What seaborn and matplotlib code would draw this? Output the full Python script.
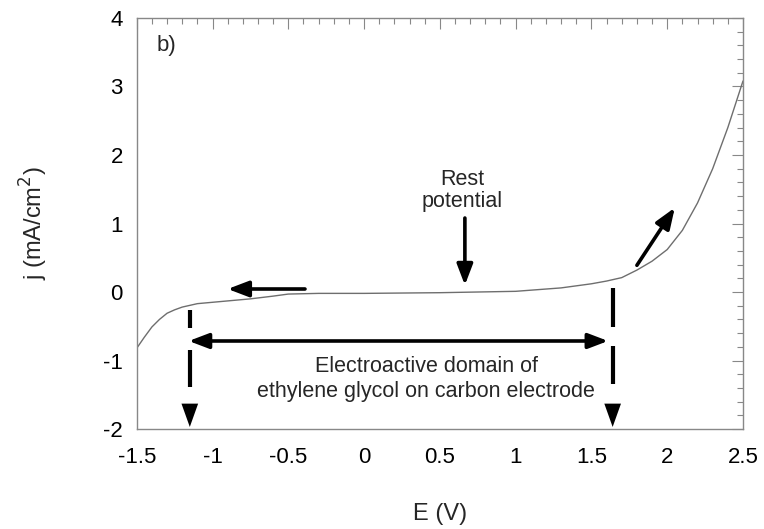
import matplotlib
matplotlib.use("Agg")
import matplotlib.pyplot as plt
import seaborn as sns
import pandas as pd
from matplotlib.ticker import MultipleLocator

# Data
E_values = [-1.5, -1.45, -1.4, -1.35, -1.3, -1.25, -1.2, -1.1, -1.0, -0.9, -0.75,
            -0.6, -0.5, -0.3, 0.0, 0.5, 1.0, 1.3, 1.5, 1.6, 1.7, 1.8, 1.9, 2.0,
            2.1, 2.2, 2.3, 2.4, 2.5]
j_values = [-0.82, -0.66, -0.51, -0.40, -0.31, -0.26, -0.22, -0.17, -0.15, -0.13, -0.10,
            -0.06, -0.03, -0.02, -0.02, -0.01, 0.01, 0.06, 0.12, 0.16, 0.21, 0.32, 0.45, 0.62,
            0.90, 1.30, 1.80, 2.40, 3.08]
x_ticks = [-1.5, -1, -0.5, 0, 0.5, 1, 1.5, 2, 2.5]
x_tick_labels = ["-1.5", "-1", "-0.5", "0", "0.5", "1", "1.5", "2", "2.5"]
y_ticks = [-2, -1, 0, 1, 2, 3, 4]
y_tick_labels = ["-2", "-1", "0", "1", "2", "3", "4"]
domain_limits = [-1.15, 1.64]

df = pd.DataFrame({"E": E_values, "j": j_values})

sns.set_theme(style="white")
plt.rcParams["font.family"] = ["Liberation Sans", "DejaVu Sans"]

fig = plt.figure(figsize=(7.64, 5.29), dpi=100)
ax = fig.add_axes([0.179, 0.189, 0.7935, 0.777])

sns.lineplot(data=df, x="E", y="j", ax=ax, color="#6e6e6e", linewidth=1.0)

ax.set_xlim(-1.5, 2.5)
ax.set_ylim(-2, 4)
ax.set_xticks(x_ticks)
ax.set_xticklabels(x_tick_labels)
ax.set_yticks(y_ticks)
ax.set_yticklabels(y_tick_labels)
ax.xaxis.set_minor_locator(MultipleLocator(0.1))
ax.yaxis.set_minor_locator(MultipleLocator(0.2))
ax.tick_params(which="both", direction="in", top=True, right=True, color="#888888",
               labelsize=16, labelcolor="black")
ax.tick_params(which="major", length=8, width=0.8)
ax.tick_params(which="minor", length=4, width=0.8)
ax.tick_params(axis="x", which="major", pad=13)
ax.tick_params(axis="y", which="major", pad=10)
for s in ax.spines.values():
    s.set_color("#888888")
    s.set_linewidth(1.0)

ax.set_xlabel("E (V)", fontsize=17, labelpad=25)
ax.set_ylabel("j (mA/cm$^2$)", fontsize=17, labelpad=38)

# panel label
ax.text(-1.37, 3.6, "b)", fontsize=16, ha="left", va="center")

def arrow(x0, y0, x1, y1, hl=1.05, hw=0.4, lw=2.6):
    ax.annotate("", xy=(x1, y1), xytext=(x0, y0),
                arrowprops=dict(arrowstyle=f"-|>,head_length={hl},head_width={hw}",
                                color="black", lw=lw, shrinkA=0, shrinkB=0))

# rest potential
ax.text(0.645, 1.48, "Rest\npotential", fontsize=15.5, ha="center", va="center",
        linespacing=1.1)
arrow(0.665, 1.08, 0.665, 0.10)
# scan direction arrows
arrow(-0.39, 0.044, -0.9, 0.044)
arrow(1.80, 0.39, 2.05, 1.23)
# electroactive domain double arrow
ax.annotate("", xy=(-1.157, -0.715), xytext=(1.61, -0.715),
            arrowprops=dict(arrowstyle="<|-|>,head_length=1.0,head_width=0.38",
                            color="black", lw=2.6, shrinkA=0, shrinkB=0))
ax.text(0.41, -1.27, "Electroactive domain of\nethylene glycol on carbon electrode",
        fontsize=15.5, ha="center", va="center", linespacing=1.2)

# dashed verticals (two dashes each) with solid heads
dash_segments = {domain_limits[0]: [(-0.26, -0.53), (-0.85, -1.39)],
                 domain_limits[1]: [(0.06, -0.51), (-0.79, -1.34)]}
for xv, segs in dash_segments.items():
    for y0, y1 in segs:
        ax.plot([xv, xv], [y0, y1], color="black", lw=3.0, solid_capstyle="butt")
    ax.annotate("", xy=(xv, -1.97), xytext=(xv, -1.2),
                arrowprops=dict(arrowstyle="-|>,head_length=1.4,head_width=0.5",
                                color="black", lw=0, shrinkA=0, shrinkB=0))

fig.savefig("out.png", dpi=100)
